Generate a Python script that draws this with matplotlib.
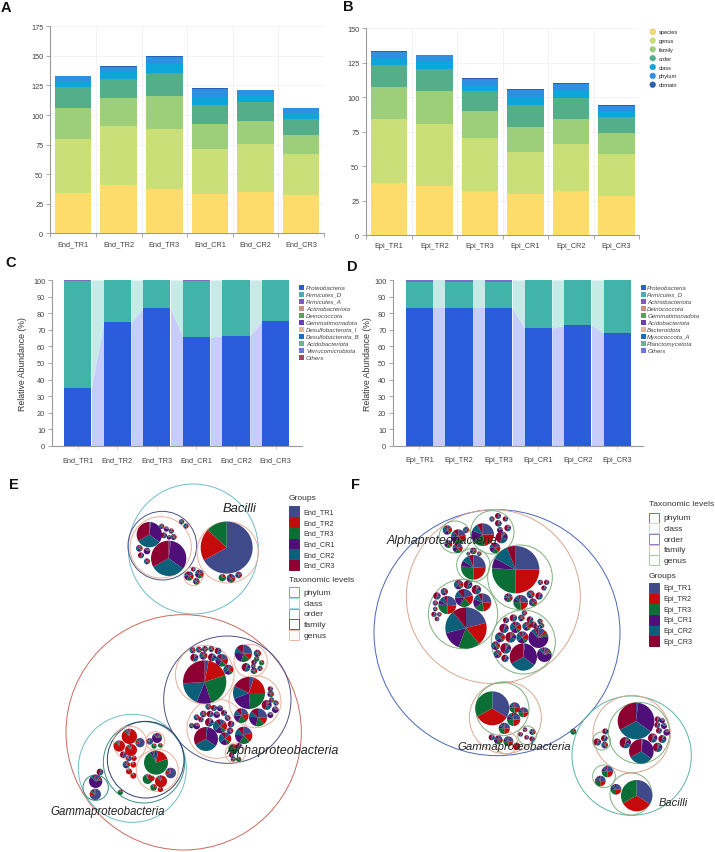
import matplotlib
matplotlib.use("Agg")
import matplotlib.pyplot as plt
import numpy as np
from matplotlib.patches import Circle, Rectangle

plt.rcParams["font.family"] = ["Liberation Sans", "DejaVu Sans"]

W, H = 715, 853

# A, B: cumulative tops of the stacks
end_samples = ["End_TR1", "End_TR2", "End_TR3", "End_CR1", "End_CR2", "End_CR3"]
epi_samples = ["Epi_TR1", "Epi_TR2", "Epi_TR3", "Epi_CR1", "Epi_CR2", "Epi_CR3"]
levels = ["species", "genus", "family", "order", "class", "phylum", "domain"]
level_colors = ["#fddc6c", "#cbdf78", "#9dce79", "#54ae8a", "#0ea5da", "#2d90e0", "#2a60b0"]

end_species = [34, 40.9, 37.5, 33, 34.9, 32]
end_genus = [79.8, 90.7, 88.2, 71.3, 75.2, 67]
end_family = [106, 114.7, 115.8, 92, 95, 83]
end_order = [123.4, 130.5, 135.8, 108.2, 111, 96.4]
end_class = [129, 136.5, 143, 115, 117, 102]
end_phylum = [132.7, 141, 149.2, 122.1, 121, 105.8]
end_domain = [133.3, 141.5, 149.6, 122.6, 121.5, 106.2]

epi_species = [37.9, 35.7, 32.1, 29.7, 32.1, 28.5]
epi_genus = [84.3, 80.4, 70.5, 60.4, 66.4, 59.2]
epi_family = [107.2, 104.6, 90.1, 78.5, 84.3, 74.2]
epi_order = [123.7, 120.8, 104.6, 94.2, 99.3, 85.5]
epi_class = [128.5, 126, 108.5, 100, 105, 90]
epi_phylum = [132.8, 130.4, 113.5, 105.5, 109.9, 93.7]
epi_domain = [133.3, 130.9, 114, 106, 110.4, 94.2]

# C, D: relative abundance
end_proteo = [34.9, 74.5, 83.1, 65.7, 66.3, 75.3]
end_firm = [99.4, 99.8, 99.9, 99.6, 99.8, 100]
epi_proteo = [83.1, 83.1, 83.1, 71.1, 72.9, 68.1]
epi_firm = [98.6, 98.8, 98.6, 99.9, 99.9, 100]

c_legend = ["Proteobacteria", "Firmicutes_D", "Firmicutes_A", "Actinobacteriota", "Deinococcota",
            "Gemmatimonadota", "Desulfobacterota_I", "Desulfobacterota_B", "Acidobacteriota",
            "Verrucomicrobiota", "Others"]
c_colors = ["#2b5cdb", "#41b3a9", "#7a5cc8", "#c9917e", "#5f9e5a", "#6a3fb0", "#ddb98c",
            "#1f6bc4", "#6bb58a", "#6a7bd0", "#a8485f"]
d_legend = ["Proteobacteria", "Firmicutes_D", "Actinobacteriota", "Deinococcota", "Gemmatimonadota",
            "Acidobacteriota", "Bacteroidota", "Myxococcota_A", "Planctomycetota", "Others"]
d_colors = ["#2b5cdb", "#41b3a9", "#7a5cc8", "#c9917e", "#5f9e5a", "#6a3fb0", "#ddb98c",
            "#1f6bc4", "#6bb58a", "#6a7bd0"]

# E, F: sample shares inside each pie (TR1, TR2, TR3, CR1, CR2, CR3)
group_colors = ["#3f4a8a", "#c40a0a", "#0b6e35", "#4f0f78", "#0b5f78", "#8c0032"]
mix_red = [3, 85, 5, 2, 2, 3]
mix_green = [3, 17, 72, 3, 3, 2]
mix_blue = [70, 12, 6, 6, 3, 3]
mix_purple = [12, 5, 5, 65, 8, 5]
mix_cr = [2, 0, 0, 33, 32, 33]
mix_tr = [34, 33, 33, 0, 0, 0]
mix_crim = [6, 4, 4, 16, 25, 45]
mix_mid = [14, 20, 10, 20, 26, 10]
mix_bac = [67, 20, 13, 0, 0, 0]
mix_alpha1 = [3, 17, 25, 11, 18, 26]
mix_alpha2 = [5, 20, 24, 20, 13, 18]
mix_alpha3 = [26, 12, 16, 22, 10, 14]
mix_f1 = [25, 22, 18, 16, 11, 8]
mix_f2 = [26, 24, 26, 8, 10, 6]
mix_f3 = [20, 18, 20, 18, 12, 12]
mix_f4 = [21, 18, 17, 15, 18, 11]
mix_f5 = [25, 25, 26, 7, 11, 6]

# E layout, crop coordinates (x, y, r) at 3x with the crop origin below
e_top_origin = (0, 470)
e_top_rings = [(580, 240, 195, "#6fbccb"), (487, 230, 103, "#4a5286"), (482, 235, 92, "#e8b09a"),
               (683, 250, 92, "#e8b09a"), (580, 322, 28, "#e8b09a")]
e_top_pies = [(680, 236, 78, mix_bac), (448, 197, 38, mix_cr), (506, 268, 53, mix_cr),
              (545, 158, 8, mix_mid), (558, 171, 8, mix_mid),
              (485, 172, 8, mix_mid), (499, 180, 8, mix_purple), (514, 186, 8, mix_mid),
              (492, 199, 9, mix_crim), (507, 205, 7, mix_purple), (521, 204, 9, mix_mid),
              (418, 238, 10, mix_mid), (441, 246, 10, mix_purple), (423, 259, 9, mix_crim), (441, 277, 9, mix_mid),
              (567, 321, 14, mix_f3), (598, 315, 13, mix_f3), (589, 337, 10, mix_f3), (580, 301, 7, mix_crim),
              (667, 326, 11, mix_green), (693, 328, 13, mix_f3), (716, 318, 10, mix_f3)]

e_low_origin = (0, 620)
e_low_rings = [(551, 340, 353, "#c96a5c"), (682, 242, 191, "#4a5286"), (397, 448, 162, "#6fbccb"),
               (432, 430, 122, "#3a8f80"), (437, 422, 115, "#333d6a"), (287, 506, 38, "#2f8f7d"),
               (614, 167, 88, "#e8b09a"), (752, 126, 50, "#e8b09a"), (765, 248, 78, "#e8b09a"),
               (650, 329, 89, "#e8b09a"), (706, 402, 30, "#e8b09a"), (390, 372, 50, "#e8b09a"),
               (466, 366, 28, "#e8b09a"), (472, 454, 63, "#e8b09a")]
e_low_pies = [(614, 189, 65, mix_alpha1), (578, 94, 9, mix_mid), (597, 92, 9, mix_mid), (615, 90, 9, mix_f3),
              (634, 90, 9, mix_mid), (654, 96, 10, mix_crim), (583, 116, 12, mix_crim), (610, 110, 12, mix_mid),
              (636, 115, 12, mix_crim), (665, 124, 19, mix_f3), (685, 152, 15, mix_mid),
              (730, 103, 26, mix_alpha3), (772, 103, 11, mix_mid), (770, 120, 8, mix_green), (738, 145, 13, mix_crim),
              (762, 155, 10, mix_f3), (762, 130, 8, mix_crim), (785, 131, 8, mix_green), (760, 141, 7, mix_mid),
              (780, 148, 8, mix_mid),
              (747, 222, 48, mix_alpha2), (724, 290, 22, mix_f3), (774, 295, 27, mix_alpha3), (811, 210, 8, mix_crim),
              (812, 225, 10, mix_f3), (800, 258, 15, mix_crim), (828, 252, 8, mix_mid), (826, 272, 10, mix_purple),
              (811, 288, 9, mix_purple), (815, 243, 8, mix_f3),
              (618, 360, 36, mix_cr), (660, 322, 21, mix_mid), (675, 359, 19, mix_mid), (731, 349, 26, mix_f3),
              (625, 263, 9, mix_mid), (642, 267, 9, mix_crim), (660, 268, 9, mix_purple), (610, 285, 10, mix_mid),
              (630, 285, 10, mix_crim), (650, 287, 10, mix_purple), (672, 282, 9, mix_crim), (590, 295, 9, mix_mid),
              (603, 302, 8, mix_crim), (575, 320, 8, mix_mid), (590, 321, 10, mix_purple), (628, 310, 13, mix_crim),
              (683, 297, 9, mix_mid), (693, 315, 10, mix_crim), (690, 335, 10, mix_mid),
              (700, 390, 15, mix_green), (695, 408, 8, mix_crim), (716, 421, 8, mix_green), (700, 420, 8, mix_f3),
              (717, 380, 8, mix_crim),
              (388, 352, 23, mix_red), (358, 381, 17, mix_red), (393, 393, 18, mix_red), (420, 371, 14, mix_blue),
              (370, 407, 10, mix_crim), (386, 418, 9, mix_blue), (402, 418, 8, mix_red), (379, 437, 11, mix_mid),
              (400, 437, 9, mix_red), (387, 457, 9, mix_red), (400, 470, 9, mix_red),
              (471, 357, 15, mix_purple), (449, 367, 10, mix_blue), (462, 381, 8, mix_green), (481, 379, 7, mix_green),
              (468, 431, 36, mix_green), (512, 462, 16, mix_blue), (443, 480, 15, mix_green), (483, 487, 18, mix_red),
              (461, 505, 10, mix_green), (481, 511, 8, mix_red), (456, 478, 8, mix_red),
              (300, 459, 10, mix_crim), (287, 487, 20, mix_purple), (286, 526, 17, mix_blue), (361, 520, 8, mix_green)]

f_top_origin = (360, 470)
f_top_rings = [(411, 491, 369, "#4a66b8"), (400, 383, 261, "#d9a890"),
               (285, 204, 48, "#7fb07f"), (397, 190, 65, "#7fb07f"), (340, 288, 50, "#7fb07f"),
               (480, 325, 97, "#7fb07f"), (309, 435, 104, "#7fb07f"), (490, 519, 96, "#7fb07f")]
f_top_pies = [(262, 183, 14, mix_mid), (295, 203, 22, mix_f3), (318, 183, 9, mix_mid), (265, 225, 12, mix_f3),
              (293, 237, 15, mix_f3),
              (368, 197, 34, mix_f1), (414, 141, 9, mix_crim), (396, 150, 8, mix_mid), (436, 150, 8, mix_crim),
              (415, 163, 10, mix_crim), (443, 177, 10, mix_crim), (420, 183, 9, mix_purple), (425, 205, 18, mix_crim),
              (405, 237, 16, mix_f3),
              (340, 295, 37, mix_f2), (340, 246, 10, mix_f3), (358, 254, 7, mix_mid), (325, 254, 6, mix_mid),
              (467, 302, 71, mix_f5), (560, 340, 8, mix_crim), (541, 340, 8, mix_mid), (552, 357, 8, mix_crim),
              (512, 376, 12, mix_mid), (537, 381, 11, mix_crim), (445, 386, 13, mix_f3), (482, 400, 22, mix_f2),
              (519, 400, 12, mix_f3),
              (318, 477, 62, mix_f4), (367, 400, 27, mix_f1), (262, 408, 27, mix_f2), (312, 387, 27, mix_f3),
              (296, 347, 14, mix_mid), (324, 347, 13, mix_crim), (349, 362, 14, mix_crim), (253, 368, 11, mix_mid),
              (231, 381, 11, mix_crim), (226, 402, 8, mix_mid), (226, 420, 7, mix_mid), (222, 436, 8, mix_crim),
              (238, 436, 7, mix_mid), (231, 450, 7, mix_crim),
              (490, 564, 41, mix_cr), (535, 507, 30, mix_purple), (553, 557, 22, mix_purple), (487, 505, 18, mix_mid),
              (452, 505, 16, mix_crim), (420, 505, 15, mix_mid), (467, 475, 17, mix_mid), (432, 478, 14, mix_crim),
              (500, 472, 13, mix_mid), (520, 467, 10, mix_crim), (460, 447, 11, mix_crim), (484, 447, 10, mix_mid),
              (510, 452, 10, mix_crim), (438, 454, 9, mix_crim), (540, 457, 8, mix_mid), (530, 475, 8, mix_crim),
              (545, 470, 8, mix_mid), (493, 432, 8, mix_mid), (437, 538, 16, mix_crim), (407, 530, 13, mix_mid),
              (413, 555, 12, mix_mid), (435, 568, 11, mix_crim)]

f_low_origin = (400, 660)
f_low_rings = [(316, 176, 108, "#d9a890"), (307, 150, 80, "#7fb07f"), (381, 229, 28, "#7fb07f"),
               (320, 252, 33, "#d9a890"), (695, 290, 179, "#5eb5a0"), (695, 225, 116, "#d9a890"),
               (717, 222, 92, "#7fb07f"), (605, 246, 27, "#7fb07f"), (612, 352, 34, "#7fb07f"),
               (693, 405, 63, "#7fb07f")]
f_low_pies = [(277, 148, 51, mix_tr), (344, 146, 16, mix_f2), (370, 160, 15, mix_f2), (341, 181, 20, mix_f2),
              (313, 208, 17, mix_f2),
              (397, 219, 9, mix_f3), (375, 212, 7, mix_f3), (362, 226, 7, mix_crim), (380, 235, 7, mix_crim),
              (396, 240, 8, mix_crim), (275, 235, 9, mix_crim), (295, 243, 13, mix_f3), (325, 247, 15, mix_f2),
              (350, 262, 11, mix_red), (520, 218, 9, mix_green),
              (708, 186, 55, mix_cr), (724, 277, 37, mix_cr), (676, 251, 17, mix_crim),
              (773, 181, 9, mix_crim), (787, 185, 8, mix_purple), (772, 198, 9, mix_crim), (792, 201, 9, mix_purple),
              (777, 215, 9, mix_crim), (800, 220, 10, mix_purple), (758, 237, 14, mix_crim), (787, 240, 12, mix_crim),
              (773, 265, 14, mix_crim),
              (616, 217, 9, mix_crim), (613, 238, 10, mix_crim), (592, 249, 11, mix_crim), (614, 258, 10, mix_mid),
              (622, 338, 17, mix_f2), (601, 366, 16, mix_f2), (710, 410, 47, mix_tr), (648, 391, 16, mix_f2)]

pack_labels = [("Bacilli", 222.7, 509, 9.4), ("Alphaproteobacteria", 226.7, 750.7, 9),
               ("Gammaproteobacteria", 50.7, 812, 8.3), ("Alphaproteobacteria", 386.7, 540.7, 8.9),
               ("Gammaproteobacteria", 457.3, 746.7, 8.2), ("Bacilli", 659, 803, 8)]

tax_levels = ["phylum", "class", "order", "family", "genus"]
e_tax_colors = ["#d6806e", "#a5d8e0", "#6fb0b0", "#5a6090", "#f0b8a8"]
f_tax_colors = ["#5a7cc0", "#b5e5e0", "#8a80c8", "#e0bfb0", "#a8c8a0"]
panel_letters = [("A", 1, 8), ("B", 343, 7), ("C", 5, 263), ("D", 347, 267), ("E", 9, 485), ("F", 351, 485)]


def axes_at(fig, left, top, right, bottom):
    return fig.add_axes([left / W, 1 - bottom / H, (right - left) / W, (bottom - top) / H])


def style_axis(ax, color="#9a9a9a"):
    ax.spines["top"].set_visible(False)
    ax.spines["right"].set_visible(False)
    ax.spines["left"].set_color(color)
    ax.spines["bottom"].set_color(color)
    ax.tick_params(axis="both", labelsize=5.3, labelcolor="#444444", color=color, length=3, width=0.6, pad=2)


def stacked_counts(ax, samples, tops, ymax, step):
    x = np.arange(len(samples))
    prev = np.zeros(len(samples))
    for top, color in zip(tops, level_colors):
        top = np.array(top)
        ax.bar(x, top - prev, bottom=prev, width=0.8, color=color, linewidth=0, zorder=3)
        prev = top
    ax.set_xlim(-0.5, len(samples) - 0.5)
    ax.set_ylim(0, ymax)
    ax.set_yticks(np.arange(0, ymax + 1, step))
    ax.set_xticks(np.arange(-0.5, len(samples)))
    ax.set_xticklabels([])
    ax.set_xticks(x, samples, minor=True)
    ax.grid(True, color="#eeeeee", linewidth=0.5, zorder=0)
    style_axis(ax)
    ax.tick_params(axis="x", which="minor", length=0, labelsize=5.3, labelcolor="#444444", pad=5)


def relative_bars(ax, samples, proteo, firm, xlim, label_x):
    x = np.arange(len(samples))
    w = 0.69
    proteo = np.array(proteo)
    firm = np.array(firm)
    ax.bar(x, proteo, width=w, color="#2b5cdb", linewidth=0, zorder=3)
    ax.bar(x, firm - proteo, bottom=proteo, width=w, color="#41b3a9", linewidth=0, zorder=3)
    ax.bar(x, 100 - firm, bottom=firm, width=w, color="#7a6fc0", linewidth=0, zorder=3)
    for i in range(len(samples) - 1):
        gap = [x[i] + w / 2, x[i + 1] - w / 2]
        ax.fill_between(gap, [0, 0], proteo[i:i + 2], color="#c6cdfb", linewidth=0, zorder=2)
        ax.fill_between(gap, proteo[i:i + 2], [100, 100], color="#c5ebe6", linewidth=0, zorder=2)
    ax.set_xlim(*xlim)
    ax.set_ylim(0, 100)
    ax.set_yticks(np.arange(0, 101, 10))
    ax.set_xticks(x, samples)
    style_axis(ax)
    ax.tick_params(axis="x", length=2.5, color="#c8c8c8", pad=5)
    ax.set_ylabel("Relative Abundance (%)", fontsize=6.3, color="#333333")
    ax.yaxis.set_label_coords(label_x, 0.5)


def ring(ax, origin, x, y, r, color, lw=0.7):
    ax.add_patch(Circle((origin[0] + x / 3, H - (origin[1] + y / 3)), r / 3, fill=False,
                        edgecolor=color, linewidth=lw, zorder=2))


def pack(ax, origin, rings, pies):
    for x, y, r, color in rings:
        ring(ax, origin, x, y, r, color)
    for x, y, r, mix in pies:
        ax.pie(mix, colors=group_colors, startangle=90, counterclock=False, radius=r / 3,
               center=(origin[0] + x / 3, H - (origin[1] + y / 3)), wedgeprops={"linewidth": 0, "zorder": 3})


def square_legend(ax, title, labels, colors, x, title_y, ys, filled):
    ax.text(x, H - title_y, title, fontsize=6.1, color="#333333", va="center")
    for name, color, y in zip(labels, colors, ys):
        ax.add_patch(Rectangle((x, H - y - 5), 10, 10, facecolor=color if filled else "white",
                               edgecolor=color, linewidth=0.7))
        ax.text(x + 15, H - y, name, fontsize=5.2 if filled else 6.1, color="#333333", va="center")


fig = plt.figure(figsize=(W / 100, H / 100), dpi=100)

ax_a = axes_at(fig, 50.3, 27.3, 324, 234.3)
stacked_counts(ax_a, end_samples, [end_species, end_genus, end_family, end_order, end_class, end_phylum, end_domain], 175, 25)
ax_b = axes_at(fig, 366.3, 29.3, 639.3, 236.3)
stacked_counts(ax_b, epi_samples, [epi_species, epi_genus, epi_family, epi_order, epi_class, epi_phylum, epi_domain], 150, 25)

ax_c = axes_at(fig, 52.3, 281, 301.7, 447)
relative_bars(ax_c, end_samples, end_proteo, end_firm, (-0.64, 5.66), -0.103)
ax_d = axes_at(fig, 393.3, 281, 642.7, 447)
relative_bars(ax_d, epi_samples, epi_proteo, epi_firm, (-0.66, 5.64), -0.085)

over = fig.add_axes([0, 0, 1, 1], zorder=5)
over.patch.set_alpha(0)

pack(over, e_top_origin, e_top_rings, e_top_pies)
pack(over, e_low_origin, e_low_rings, e_low_pies)
pack(over, f_top_origin, f_top_rings, f_top_pies)
pack(over, f_low_origin, f_low_rings, f_low_pies)

for name, x, y, size in pack_labels:
    over.text(x, H - y, name, fontsize=size, style="italic", color="#222222", va="center", zorder=6)

# legends
for i, (name, color) in enumerate(zip(levels, level_colors)):
    y = 32.7 + i * 8.83
    over.add_patch(Circle((652.7, H - y), 2.8, facecolor=color, edgecolor="#c8b860" if i == 0 else color, linewidth=0.4))
    over.text(658.7, H - y, name, fontsize=4.1, color="#222222", va="center")

for i, (name, color) in enumerate(zip(c_legend, c_colors)):
    y = 288.3 + i * 7
    over.add_patch(Rectangle((299, H - y - 2.5), 5, 5, facecolor=color, linewidth=0))
    over.text(306, H - y, name, fontsize=4.45, style="italic", color="#444444", va="center")

for i, (name, color) in enumerate(zip(d_legend, d_colors)):
    y = 288.3 + i * 7
    over.add_patch(Rectangle((640.7, H - y - 2.5), 5, 5, facecolor=color, linewidth=0))
    over.text(647.3, H - y, name, fontsize=4.45, style="italic", color="#444444", va="center")

square_legend(over, "Groups", end_samples, group_colors, 288.7, 499, [512.3, 523.3, 534, 544.7, 555.3, 566], True)
square_legend(over, "Taxonomic levels", tax_levels, e_tax_colors, 288.7, 580, [593.3, 604, 614.7, 625.3, 636], False)
square_legend(over, "Taxonomic levels", tax_levels, f_tax_colors, 648.7, 505, [518.7, 529.3, 540, 550.7, 561.3], False)
square_legend(over, "Groups", epi_samples, group_colors, 648.7, 576, [589, 599.7, 610.3, 621, 631.7, 642.3], True)

for letter, x, y in panel_letters:
    over.text(x, H - y, letter, fontsize=10.5, fontweight="bold", color="#111111", va="center")

over.set_aspect("auto")
over.set_xlim(0, W)
over.set_ylim(0, H)
over.axis("off")

fig.savefig("out.png", dpi=100, facecolor="white")
